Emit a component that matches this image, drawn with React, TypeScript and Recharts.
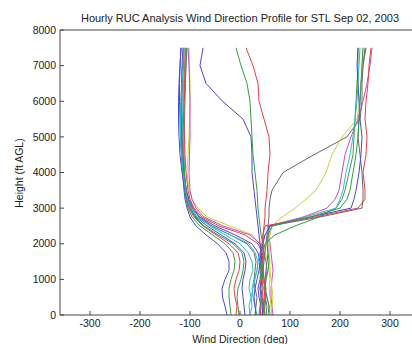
import { Line, LineChart, XAxis, YAxis } from 'recharts';

// heights of the profile levels (ft AGL)
const heights = [0, 250, 500, 750, 1000, 1250, 1500, 1750, 2000, 2250, 2500, 2750, 3000, 3250, 3500, 4000, 4500, 5000, 5500, 6000, 6500, 7000, 7500];

// wind direction (deg) at each height, one array per hourly profile
// profiles that back round to the left (~ -110 aloft)
const left1 = [-26, -30, -35, -36, -30, -22, -22, -28, -45, -68, -88, -100, -106, -110, -112, -115, -117, -118, -118, -118, -117, -116, -114];
const left2 = [-18, -20, -22, -22, -18, -12, -10, -14, -30, -55, -80, -96, -104, -108, -111, -114, -116, -117, -117, -116, -115, -113, -112];
const left3 = [-8, -6, -10, -12, -8, -2, 0, -4, -22, -48, -74, -92, -102, -107, -110, -113, -114, -114, -113, -112, -110, -108, -106];
const left4 = [10, 8, 6, 4, 6, 10, 12, 8, -10, -38, -66, -88, -100, -106, -110, -116, -120, -122, -123, -123, -122, -120, -118];
const left5 = [20, 24, 22, 18, 20, 26, 24, 16, 0, -30, -60, -86, -98, -104, -108, -112, -114, -115, -115, -114, -113, -111, -108];
const left6 = [64, 62, 60, 58, 60, 58, 56, 50, 40, 24, -20, -66, -84, -96, -102, -106, -104, -102, -101, -100, -100, -101, -102];
const left7 = [30, 32, 34, 30, 28, 30, 32, 28, 14, -20, -56, -82, -96, -104, -108, -112, -114, -116, -117, -117, -116, -115, -113];
const left8 = [40, 42, 38, 36, 40, 42, 40, 36, 24, -10, -50, -80, -94, -102, -107, -113, -117, -119, -120, -121, -121, -120, -118];
const left9 = [-2, -4, -6, -4, 2, 6, 8, 4, -14, -44, -72, -90, -100, -105, -108, -111, -112, -112, -111, -110, -109, -108, -107];
const left10 = [50, 48, 44, 40, 42, 44, 46, 44, 36, 10, -42, -76, -92, -100, -104, -108, -110, -111, -112, -112, -111, -110, -110];
const left11 = [60, 58, 54, 50, 52, 54, 52, 48, 40, 20, -34, -72, -88, -96, -100, -102, -101, -100, -100, -100, -101, -102, -104];
const left12 = [34, 30, 26, 24, 28, 34, 36, 30, 18, -20, -58, -86, -98, -105, -109, -114, -117, -119, -119, -118, -116, -114, -112];

// profiles that veer round to the right (~ 240 aloft)
const right1 = [52, 54, 50, 48, 50, 52, 54, 56, 56, 56, 56, 58, 58, 60, 64, 86, 148, 214, 240, 244, 244, 246, 250];
const right2 = [46, 48, 50, 52, 48, 46, 48, 50, 52, 54, 60, 160, 244, 246, 246, 244, 240, 236, 238, 240, 242, 246, 252];
const right3 = [66, 64, 62, 62, 64, 66, 64, 62, 60, 58, 56, 126, 174, 190, 198, 204, 210, 222, 236, 246, 254, 260, 264];
const right4 = [62, 64, 66, 64, 62, 60, 60, 58, 58, 60, 64, 84, 110, 132, 152, 172, 184, 204, 234, 240, 242, 244, 246];
const right5 = [38, 40, 42, 44, 42, 40, 42, 46, 50, 70, 110, 158, 192, 204, 210, 218, 226, 228, 230, 232, 234, 236, 236];
const right6 = [20, 18, 22, 26, 30, 34, 36, 40, 44, 50, 66, 130, 192, 200, 206, 212, 220, 226, 230, 234, 236, 238, 240];
const right7 = [32, 30, 28, 30, 34, 38, 40, 42, 46, 50, 60, 140, 222, 228, 232, 238, 242, 244, 240, 238, 236, 234, 236];
const right8 = [44, 46, 48, 50, 48, 46, 44, 42, 44, 46, 50, 150, 236, 250, 250, 246, 252, 254, 250, 252, 256, 258, 262];
const right9 = [56, 58, 54, 50, 52, 56, 58, 56, 54, 56, 64, 140, 200, 214, 220, 226, 232, 236, 238, 240, 242, 244, 246];

// profiles that stay near the middle
const mid1 = [44, 46, 42, 40, 44, 46, 44, 42, 40, 38, 36, 34, 32, 30, 28, 24, 24, 22, 6, -35, -68, -80, -74];
const mid2 = [48, 50, 52, 50, 46, 44, 46, 48, 46, 42, 40, 38, 36, 35, 34, 30, 26, 24, 22, 20, 14, 2, -8];
const mid3 = [40, 42, 44, 46, 44, 42, 44, 46, 46, 46, 48, 50, 50, 52, 54, 56, 60, 58, 48, 38, 36, 26, 12];

const profiles = [
  left1, left2, left3, left4, left5, left6, left7, left8, left9, left10, left11, left12,
  right1, right2, right3, right4, right5, right6, right7, right8, right9,
  mid1, mid2, mid3,
];

const xTicks = [-300, -200, -100, 0, 100, 200, 300];
const yTicks = [0, 1000, 2000, 3000, 4000, 5000, 6000, 7000, 8000];

// matlab-ish colour order, a bit washed out like the jpeg
const B = '#4a48d2';
const G = '#3b9a45';
const R = '#e0404a';
const C = '#2fbdc4';
const M = '#c24fc4';
const Y = '#cfcf3a';
const K = '#6a6a6a';
const colors = [
  B, G, R, B, C, Y, K, B, G, R, M, C,
  K, K, M, Y, G, C, B, R, G,
  B, G, R,
];

const font = '"Liberation Sans", Arial, sans-serif';
const tickStyle = { fill: '#222', fontSize: 10.5, fontFamily: font };

export default function App() {
  return (
    <div style={{ position: 'absolute', left: 0, top: 0, width: 412, height: 344, overflow: 'hidden', background: '#fff' }}>
      <div
        style={{
          position: 'absolute', left: 0, top: 12, width: 480, textAlign: 'center',
          fontFamily: font, fontSize: 11, color: '#222', lineHeight: '12px',
        }}
      >
        Hourly RUC Analysis Wind Direction Profile for STL Sep 02, 2003
      </div>
      <LineChart width={440} height={344} margin={{ top: 0, right: 20, bottom: 0, left: 0 }}>
        <XAxis
          xAxisId="t"
          orientation="top"
          dataKey="dir"
          type="number"
          domain={[-360, 360]}
          ticks={xTicks}
          height={30}
          tickSize={-4}
          tickFormatter={() => ''}
          stroke="#444"
        />
        <XAxis
          xAxisId="b"
          dataKey="dir"
          type="number"
          domain={[-360, 360]}
          ticks={xTicks}
          height={29}
          tickSize={-4}
          tickMargin={9}
          tick={tickStyle}
          stroke="#444"
          allowDataOverflow
        />
        <YAxis
          dataKey="h"
          type="number"
          domain={[0, 8000]}
          ticks={yTicks}
          width={60}
          tickSize={-4}
          tickMargin={8}
          tick={tickStyle}
          stroke="#444"
          interval={0}
        />
        {profiles.map((dirs, i) => (
          <Line
            key={i}
            xAxisId="b"
            data={heights.map((h, j) => ({ dir: dirs[j], h }))}
            dataKey="h"
            stroke={colors[i]}
            strokeWidth={1}
            dot={false}
            isAnimationActive={false}
          />
        ))}
      </LineChart>
      <div
        style={{
          position: 'absolute', left: 0, top: 333, width: 480, textAlign: 'center',
          fontFamily: font, fontSize: 10.5, color: '#222', lineHeight: '12px',
        }}
      >
        Wind Direction (deg)
      </div>
      <div
        style={{
          position: 'absolute', left: 19, top: 173, width: 0, height: 0,
        }}
      >
        <div
          style={{
            position: 'absolute', left: -60, top: -6, width: 120, textAlign: 'center',
            fontFamily: font, fontSize: 10.5, color: '#222', lineHeight: '12px',
            transform: 'rotate(-90deg)',
          }}
        >
          Height (ft AGL)
        </div>
      </div>
    </div>
  );
}
